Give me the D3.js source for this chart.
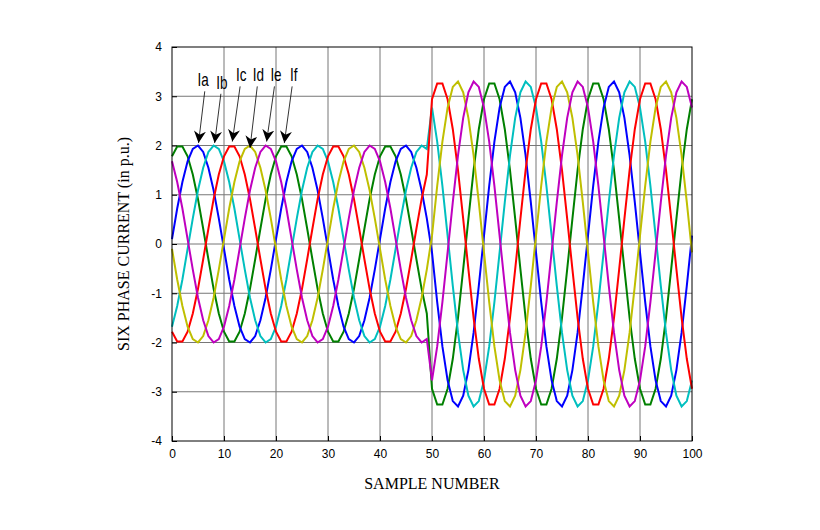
<!DOCTYPE html>
<html lang="en">
<head>
<meta charset="UTF-8">
<title>Six phase current</title>
<style>
  body { margin: 0; background: #fff; }
  .tick text { font-family: "Liberation Sans", Arial, sans-serif; font-size: 12px; }
  .lbl { font-family: "Liberation Serif", "Times New Roman", serif; font-size: 16px; }
  .ann { font-family: "Liberation Sans Narrow", "Liberation Sans", Arial, sans-serif; font-size: 18px; }
</style>
<script src="https://d3js.org/d3.v7.min.js"></script>
</head>
<body>
<div class="graph"></div>
<script>
// samples 0..100, one value per sample
const ia = [0.10,0.72,1.26,1.68,1.93,2.00,1.87,1.55,1.09,0.52,-0.10,-0.72,-1.26,-1.68,-1.93,-2.00,-1.87,-1.55,-1.09,-0.52,
  0.10,0.72,1.26,1.68,1.93,2.00,1.87,1.55,1.09,0.52,-0.10,-0.72,-1.26,-1.68,-1.93,-2.00,-1.87,-1.55,-1.09,-0.52,
  0.10,0.72,1.26,1.68,1.93,2.00,1.87,1.55,1.09,0.52,-0.17,-1.18,-2.08,-2.77,-3.19,-3.30,-3.08,-2.56,-1.80,-0.85,
  0.17,1.18,2.08,2.77,3.19,3.30,3.08,2.56,1.80,0.85,-0.17,-1.18,-2.08,-2.77,-3.19,-3.30,-3.08,-2.56,-1.80,-0.85,
  0.17,1.18,2.08,2.77,3.19,3.30,3.08,2.56,1.80,0.85,-0.17,-1.18,-2.08,-2.77,-3.19,-3.30,-3.08,-2.56,-1.80,-0.85,0.17]
const ib = [-1.68,-1.26,-0.72,-0.10,0.52,1.09,1.55,1.87,2.00,1.93,1.68,1.26,0.72,0.10,-0.52,-1.09,-1.55,-1.87,-2.00,-1.93,
  -1.68,-1.26,-0.72,-0.10,0.52,1.09,1.55,1.87,2.00,1.93,1.68,1.26,0.72,0.10,-0.52,-1.09,-1.55,-1.87,-2.00,-1.93,
  -1.68,-1.26,-0.72,-0.10,0.52,1.09,1.55,1.87,2.00,1.93,2.77,2.08,1.18,0.17,-0.85,-1.80,-2.56,-3.08,-3.30,-3.19,
  -2.77,-2.08,-1.18,-0.17,0.85,1.80,2.56,3.08,3.30,3.19,2.77,2.08,1.18,0.17,-0.85,-1.80,-2.56,-3.08,-3.30,-3.19,
  -2.77,-2.08,-1.18,-0.17,0.85,1.80,2.56,3.08,3.30,3.19,2.77,2.08,1.18,0.17,-0.85,-1.80,-2.56,-3.08,-3.30,-3.19,-2.77]
const ic = [-1.78,-1.98,-1.98,-1.78,-1.41,-0.91,-0.31,0.31,0.91,1.41,1.78,1.98,1.98,1.78,1.41,0.91,0.31,-0.31,-0.91,-1.41,
  -1.78,-1.98,-1.98,-1.78,-1.41,-0.91,-0.31,0.31,0.91,1.41,1.78,1.98,1.98,1.78,1.41,0.91,0.31,-0.31,-0.91,-1.41,
  -1.78,-1.98,-1.98,-1.78,-1.41,-0.91,-0.31,0.31,0.91,1.41,2.94,3.26,3.26,2.94,2.33,1.50,0.51,-0.51,-1.50,-2.33,
  -2.94,-3.26,-3.26,-2.94,-2.33,-1.50,-0.51,0.51,1.50,2.33,2.94,3.26,3.26,2.94,2.33,1.50,0.51,-0.51,-1.50,-2.33,
  -2.94,-3.26,-3.26,-2.94,-2.33,-1.50,-0.51,0.51,1.50,2.33,2.94,3.26,3.26,2.94,2.33,1.50,0.51,-0.51,-1.50,-2.33,-2.94]
const id = [-0.10,-0.72,-1.26,-1.68,-1.93,-2.00,-1.87,-1.55,-1.09,-0.52,0.10,0.72,1.26,1.68,1.93,2.00,1.87,1.55,1.09,0.52,
  -0.10,-0.72,-1.26,-1.68,-1.93,-2.00,-1.87,-1.55,-1.09,-0.52,0.10,0.72,1.26,1.68,1.93,2.00,1.87,1.55,1.09,0.52,
  -0.10,-0.72,-1.26,-1.68,-1.93,-2.00,-1.87,-1.55,-1.09,-0.52,0.17,1.18,2.08,2.77,3.19,3.30,3.08,2.56,1.80,0.85,
  -0.17,-1.18,-2.08,-2.77,-3.19,-3.30,-3.08,-2.56,-1.80,-0.85,0.17,1.18,2.08,2.77,3.19,3.30,3.08,2.56,1.80,0.85,
  -0.17,-1.18,-2.08,-2.77,-3.19,-3.30,-3.08,-2.56,-1.80,-0.85,0.17,1.18,2.08,2.77,3.19,3.30,3.08,2.56,1.80,0.85,-0.17]
const ie = [1.68,1.26,0.72,0.10,-0.52,-1.09,-1.55,-1.87,-2.00,-1.93,-1.68,-1.26,-0.72,-0.10,0.52,1.09,1.55,1.87,2.00,1.93,
  1.68,1.26,0.72,0.10,-0.52,-1.09,-1.55,-1.87,-2.00,-1.93,-1.68,-1.26,-0.72,-0.10,0.52,1.09,1.55,1.87,2.00,1.93,
  1.68,1.26,0.72,0.10,-0.52,-1.09,-1.55,-1.87,-2.00,-1.93,-2.77,-2.08,-1.18,-0.17,0.85,1.80,2.56,3.08,3.30,3.19,
  2.77,2.08,1.18,0.17,-0.85,-1.80,-2.56,-3.08,-3.30,-3.19,-2.77,-2.08,-1.18,-0.17,0.85,1.80,2.56,3.08,3.30,3.19,
  2.77,2.08,1.18,0.17,-0.85,-1.80,-2.56,-3.08,-3.30,-3.19,-2.77,-2.08,-1.18,-0.17,0.85,1.80,2.56,3.08,3.30,3.19,2.77]
const iff = [1.78,1.98,1.98,1.78,1.41,0.91,0.31,-0.31,-0.91,-1.41,-1.78,-1.98,-1.98,-1.78,-1.41,-0.91,-0.31,0.31,0.91,1.41,
  1.78,1.98,1.98,1.78,1.41,0.91,0.31,-0.31,-0.91,-1.41,-1.78,-1.98,-1.98,-1.78,-1.41,-0.91,-0.31,0.31,0.91,1.41,
  1.78,1.98,1.98,1.78,1.41,0.91,0.31,-0.31,-0.91,-1.41,-2.94,-3.26,-3.26,-2.94,-2.33,-1.50,-0.51,0.51,1.50,2.33,
  2.94,3.26,3.26,2.94,2.33,1.50,0.51,-0.51,-1.50,-2.33,-2.94,-3.26,-3.26,-2.94,-2.33,-1.50,-0.51,0.51,1.50,2.33,
  2.94,3.26,3.26,2.94,2.33,1.50,0.51,-0.51,-1.50,-2.33,-2.94,-3.26,-3.26,-2.94,-2.33,-1.50,-0.51,0.51,1.50,2.33,2.94]

const names = ['Ia', 'Ib', 'Ic', 'Id', 'Ie', 'If']
const colors = ['#0000ff', '#00bfbf', '#ff0000', '#bfbf00', '#bf00bf', '#008000']
// annotation: label position and arrow tail/tip, in data units
const labelPos = [[6.0, 3.2], [9.6, 3.15], [13.3, 3.3], [16.6, 3.3], [20.0, 3.3], [23.4, 3.3]]
const arrowTail = [[6.3, 3.1], [9.4, 3.05], [13.1, 3.2], [16.4, 3.2], [19.7, 3.2], [23.1, 3.2]]
const arrowTip = [[5.1, 2.05], [8.2, 2.05], [11.6, 2.08], [15.0, 1.95], [18.2, 2.08], [21.6, 2.05]]
const xTicks = [0, 10, 20, 30, 40, 50, 60, 70, 80, 90, 100]
const yTicks = [-4, -3, -2, -1, 0, 1, 2, 3, 4]

const series = [ia, ib, ic, id, ie, iff]
const drawOrder = [5, 0, 1, 2, 3, 4]

const margin = { left: 172, right: 128, top: 47, bottom: 89 }
const width = 520, height = 394

const svg = d3.select('.graph').append('svg')
  .attr('width', 820).attr('height', 530)
const graph = svg.append('g')
  .attr('transform', `translate(${margin.left}, ${margin.top})`)

const x = d3.scaleLinear().domain([0, 100]).range([0, width])
const y = d3.scaleLinear().domain([-4, 4]).range([height, 0])

// grid
graph.append('g').selectAll('line').data(xTicks.slice(1, -1)).join('line')
  .attr('x1', d => x(d)).attr('x2', d => x(d)).attr('y1', 0).attr('y2', height)
  .attr('stroke', '#777').attr('stroke-width', 1)
graph.append('g').selectAll('line').data(yTicks.slice(1, -1)).join('line')
  .attr('y1', d => y(d)).attr('y2', d => y(d)).attr('x1', 0).attr('x2', width)
  .attr('stroke', '#777').attr('stroke-width', 1)

const line = d3.line().x((d, i) => x(i)).y(d => y(d))
drawOrder.forEach(k => {
  graph.append('path').datum(series[k])
    .attr('d', line).attr('fill', 'none')
    .attr('stroke', colors[k]).attr('stroke-width', 2)
})

// frame + axes
graph.append('rect').attr('width', width).attr('height', height)
  .attr('fill', 'none').attr('stroke', '#000')
graph.append('g').attr('transform', `translate(0, ${height})`)
  .call(d3.axisBottom(x).tickValues(xTicks).tickFormat(d => String(d)).tickSizeInner(-5).tickSizeOuter(0).tickPadding(8))
  .call(g => g.select('.domain').remove())
graph.append('g')
  .call(d3.axisLeft(y).tickValues(yTicks).tickFormat(d => String(d)).tickSizeInner(-5).tickSizeOuter(0).tickPadding(10))
  .call(g => g.select('.domain').remove())

// labels
svg.append('text').attr('class', 'lbl')
  .attr('x', margin.left + width / 2).attr('y', 489).attr('text-anchor', 'middle')
  .text('SAMPLE NUMBER')
svg.append('text').attr('class', 'lbl')
  .attr('transform', `translate(129, ${margin.top + height / 2}) rotate(-90)`)
  .attr('text-anchor', 'middle').text('SIX PHASE CURRENT (in p.u.)')

// annotations
svg.append('defs').append('marker').attr('id', 'ah')
  .attr('viewBox', '0 0 10 10').attr('refX', 10).attr('refY', 5)
  .attr('markerWidth', 12).attr('markerHeight', 12).attr('markerUnits', 'userSpaceOnUse')
  .attr('orient', 'auto')
  .append('path').attr('d', 'M0,0 L10,5 L0,10 L3,5 Z').attr('fill', '#000')
names.forEach((n, i) => {
  const lx = x(labelPos[i][0]), ly = y(labelPos[i][1])
  graph.append('text').attr('class', 'ann')
    .attr('transform', `translate(${lx}, ${ly}) scale(0.75, 1)`)
    .attr('text-anchor', 'middle')
    .text(n)
  graph.append('line')
    .attr('x1', x(arrowTail[i][0])).attr('y1', y(arrowTail[i][1]))
    .attr('x2', x(arrowTip[i][0])).attr('y2', y(arrowTip[i][1]))
    .attr('stroke', '#000').attr('stroke-width', 0.8).attr('marker-end', 'url(#ah)')
})
</script>
</body>
</html>
